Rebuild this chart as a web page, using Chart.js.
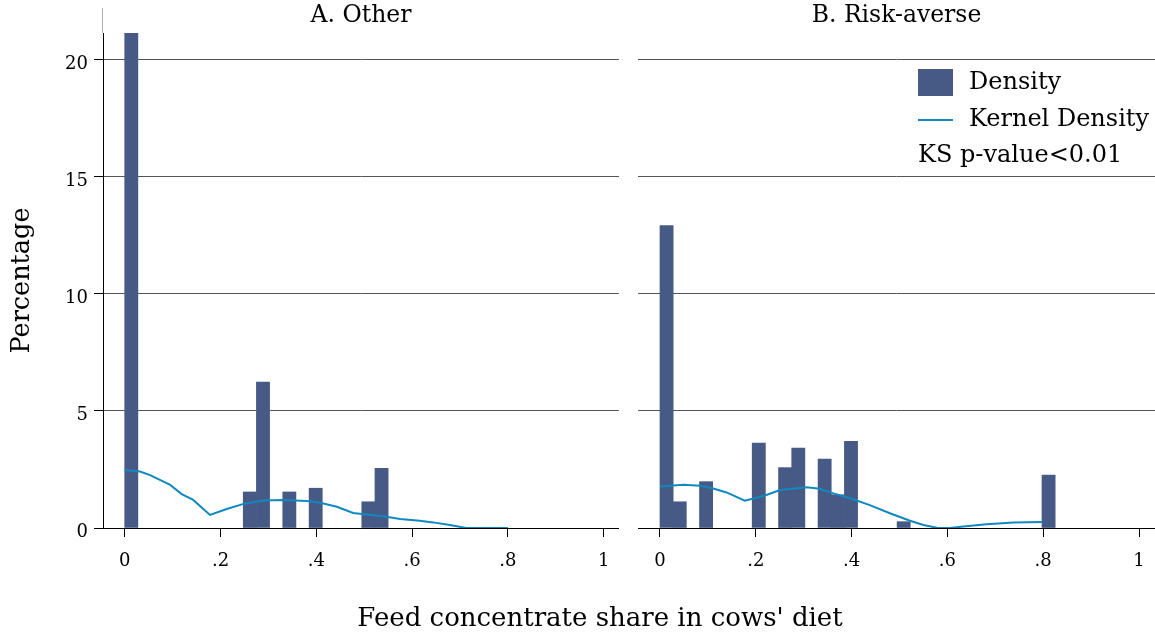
<!DOCTYPE html>
<html>
<head>
<meta charset="utf-8">
<script src="https://cdn.jsdelivr.net/npm/chart.js@4.4.1/dist/chart.umd.min.js"></script>
<style>
  html, body { margin: 0; padding: 0; background: #fff; width: 1155px; height: 635px; overflow: hidden; }
  #wrap { position: relative; width: 1155px; height: 635px; }
  canvas { position: absolute; top: 0; }
  #cL { left: 0; }
  #cR { left: 620px; }
  #xtitle { position: absolute; left: 0; width: 1200px; top: 602px; line-height: 30px; text-align: center;
            font-family: 'DejaVu Serif', serif; font-size: 26px; color: #000; white-space: nowrap; }
</style>
</head>
<body>
<div id="wrap">
  <canvas id="cL" width="619" height="635"></canvas>
  <canvas id="cR" width="535" height="635"></canvas>
  <div id="xtitle">Feed concentrate share in cows' diet</div>
</div>
<script>
// ---------------- data ----------------
const binWidth = 0.0275;
const xTickValues = [0, 0.2, 0.4, 0.6, 0.8, 1];
const xTickLabels = ['0', '.2', '.4', '.6', '.8', '1'];
const yTickValues = [0, 5, 10, 15, 20];
const yTickLabels = ['0', '5', '10', '15', '20'];
const panelTitles = ['A. Other', 'B. Risk-averse'];
const legendLabels = ['Density', 'Kernel Density', 'KS p-value<0.01'];
const yAxisTitle = 'Percentage';

// Panel A: Other
const otherBinStart = [0, 0.2475, 0.275, 0.33, 0.385, 0.495, 0.5225];
const otherPercent  = [21.15, 1.54, 6.24, 1.54, 1.70, 1.12, 2.55];
const otherKdeX = [0, 0.032, 0.053, 0.095, 0.119, 0.143, 0.178, 0.213, 0.248, 0.289, 0.331, 0.380, 0.408, 0.443, 0.477, 0.505, 0.540, 0.575, 0.616, 0.644, 0.679, 0.713, 0.80];
const otherKdeY = [2.48, 2.41, 2.26, 1.84, 1.45, 1.20, 0.56, 0.81, 1.03, 1.17, 1.20, 1.15, 1.08, 0.91, 0.64, 0.58, 0.50, 0.38, 0.31, 0.24, 0.13, 0.0, 0.0];

// Panel B: Risk-averse
const riskBinStart = [0, 0.0275, 0.0825, 0.1925, 0.2475, 0.275, 0.33, 0.3575, 0.385, 0.495, 0.7975];
const riskPercent  = [12.92, 1.12, 1.98, 3.63, 2.58, 3.42, 2.95, 1.42, 3.70, 0.27, 2.26];
const riskKdeX = [0, 0.049, 0.084, 0.111, 0.139, 0.177, 0.216, 0.251, 0.306, 0.334, 0.362, 0.397, 0.438, 0.480, 0.522, 0.550, 0.578, 0.605, 0.633, 0.682, 0.738, 0.799];
const riskKdeY = [1.77, 1.85, 1.81, 1.69, 1.52, 1.17, 1.37, 1.62, 1.74, 1.68, 1.48, 1.27, 0.98, 0.63, 0.31, 0.13, 0.01, 0.0, 0.06, 0.16, 0.23, 0.26];

// ---------------- styles ----------------
const barColor = '#465a85';
const lineColor = '#1089bf';
const gridColor = '#555555';
const FONT = "'DejaVu Serif', serif";

Chart.defaults.font.family = FONT;
Chart.defaults.color = '#000';

function labelFor(values, labels) {
  return v => { const i = values.findIndex(t => Math.abs(t - v) < 1e-9); return i >= 0 ? labels[i] : ''; };
}

function makeChart(canvasId, title, binStart, pct, kdeX, kdeY, isLeft, range, plugins) {
  const bars = binStart.map((s, i) => ({ x: s + binWidth / 2, y: pct[i] }));
  const kde = kdeX.map((x, i) => ({ x: x, y: kdeY[i] }));
  return new Chart(document.getElementById(canvasId), {
    type: 'bar',
    data: {
      datasets: [
        { type: 'line', label: legendLabels[1], data: kde, borderColor: lineColor, borderWidth: 2,
          pointRadius: 0, fill: false, tension: 0, order: 0, xAxisID: 'x', yAxisID: 'y' },
        { type: 'bar', label: legendLabels[0], data: bars, backgroundColor: barColor, borderWidth: 0,
          barPercentage: 1, categoryPercentage: 1, order: 1, xAxisID: 'x', yAxisID: 'y' }
      ]
    },
    options: {
      responsive: false, animation: false, devicePixelRatio: 1,
      layout: { padding: 0 },
      plugins: { legend: { display: false }, tooltip: { enabled: false }, title: { display: false } },
      scales: {
        x: {
          type: 'linear', axis: 'x', position: 'bottom', min: range[0], max: range[1], offset: false,
          afterBuildTicks: s => { s.ticks = xTickValues.map(v => ({ value: v })); },
          afterFit: s => { s.height = 107; s.paddingLeft = 0; s.paddingRight = 0; },
          grid: { offset: false, drawOnChartArea: false, drawTicks: true, tickLength: 9, tickColor: '#000', tickWidth: 1 },
          border: { display: true, color: '#000', width: 1 },
          ticks: { padding: 14, color: '#000', font: { size: 18 }, maxRotation: 0, autoSkip: false,
                   callback: labelFor(xTickValues, xTickLabels) }
        },
        xTop: {
          type: 'linear', axis: 'x', position: 'top', min: 0, max: 1, offset: false,
          grid: { display: false, drawTicks: false }, border: { display: false },
          ticks: { display: false },
          afterFit: s => { s.height = 33; s.paddingLeft = 0; s.paddingRight = 0; },
          title: { display: true, text: title, color: '#000', font: { size: 23.5 }, padding: { top: 2, bottom: 0 } }
        },
        y: {
          type: 'linear', axis: 'y', position: 'left', min: 0, max: 21.15,
          afterBuildTicks: s => { s.ticks = yTickValues.map(v => ({ value: v })); },
          afterFit: s => { s.width = isLeft ? 103 : 18; },
          grid: { color: gridColor, lineWidth: 1, drawTicks: isLeft, tickLength: 9, tickColor: '#000' },
          border: { display: isLeft, color: '#000', width: 1 },
          ticks: { display: isLeft, padding: 6, labelOffset: 4, color: '#000', font: { size: 18 },
                   callback: labelFor(yTickValues, yTickLabels) },
          title: { display: isLeft, text: yAxisTitle, color: '#000', font: { size: 25.5 }, padding: { top: 7, bottom: 0 } }
        }
      }
    },
    plugins: plugins || []
  });
}

// thin grey stub above the left y axis, as in the reference
const axisStubPlugin = {
  id: 'axisStub',
  afterDraw(chart) {
    const { ctx, chartArea: a } = chart;
    ctx.save();
    ctx.strokeStyle = '#b0b0b0'; ctx.lineWidth = 1;
    ctx.beginPath(); ctx.moveTo(a.left - 0.5, 8); ctx.lineTo(a.left - 0.5, a.top); ctx.stroke();
    ctx.restore();
  }
};

const legendPlugin = {
  id: 'panelLegend',
  afterDatasetsDraw(chart) {
    const { ctx, chartArea: a } = chart;
    const x0 = a.right - 237, y0 = a.top + 36;
    ctx.save();
    ctx.fillStyle = barColor;
    ctx.fillRect(x0, y0, 35, 27);
    ctx.strokeStyle = lineColor; ctx.lineWidth = 2;
    ctx.beginPath(); ctx.moveTo(x0, y0 + 51); ctx.lineTo(x0 + 35, y0 + 51); ctx.stroke();
    ctx.font = "24px " + FONT; ctx.fillStyle = '#000';
    ctx.textBaseline = 'middle'; ctx.textAlign = 'left';
    ctx.fillText(legendLabels[0], x0 + 51, y0 + 13.5);
    ctx.fillText(legendLabels[1], x0 + 51, y0 + 50.5);
    ctx.fillText(legendLabels[2], x0, y0 + 87);
    ctx.restore();
  }
};

makeChart('cL', panelTitles[0], otherBinStart, otherPercent, otherKdeX, otherKdeY, true, [-0.0453, 1.032], [axisStubPlugin]);
makeChart('cR', panelTitles[1], riskBinStart, riskPercent, riskKdeX, riskKdeY, false, [-0.0459, 1.0334], [legendPlugin]);
</script>
</body>
</html>
